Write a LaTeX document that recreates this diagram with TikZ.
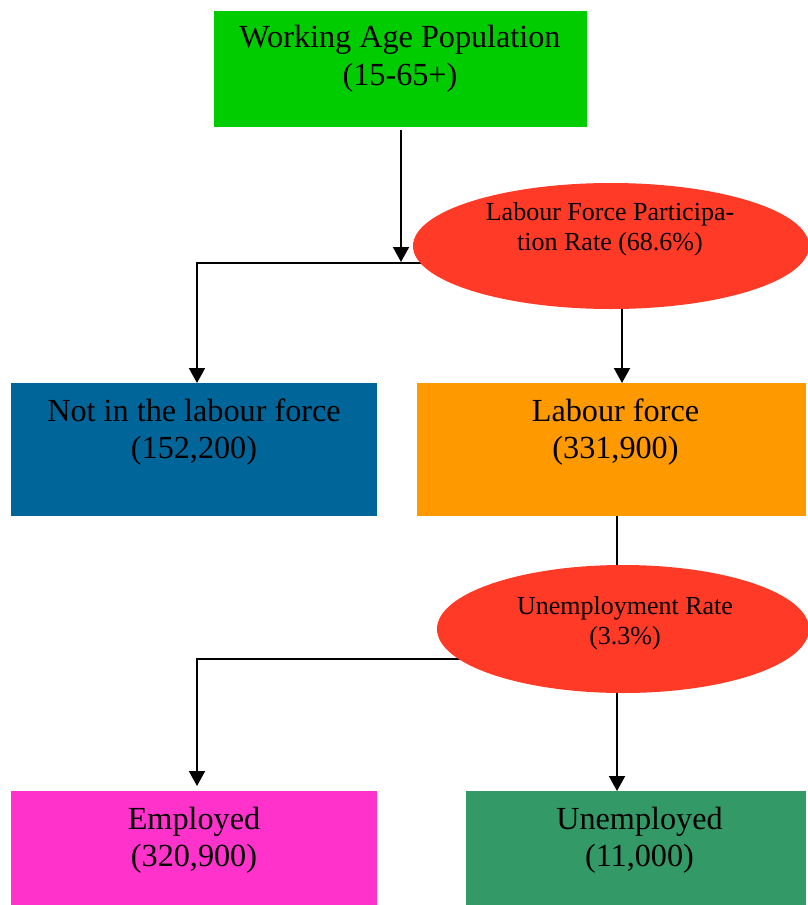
\documentclass[tikz,border=0pt]{standalone}
\usepackage{fontspec}
\setmainfont{Liberation Serif}
\usetikzlibrary{arrows.meta,shapes.geometric,backgrounds}
\definecolor{cgreen}{HTML}{00CC00}
\definecolor{cred}{HTML}{FF3B28}
\definecolor{cblue}{HTML}{006699}
\definecolor{corange}{HTML}{FF9900}
\definecolor{cmagenta}{HTML}{FF33CC}
\definecolor{cteal}{HTML}{339966}
\tikzset{
  box/.style={rectangle,draw=none,inner sep=0pt,outer sep=0pt},
  oval/.style={ellipse,fill=cred,draw=none,inner sep=0pt,outer sep=0pt},
  bigtxt/.style={align=center,inner sep=0pt,font=\fontsize{32.2}{37.5}\selectfont},
  smalltxt/.style={align=center,inner sep=0pt,font=\fontsize{26}{30}\selectfont},
  conn/.style={line width=2pt,black},
  arr/.style={conn,-{Triangle[width=16pt,length=15pt]}}
}
\begin{document}
\begin{tikzpicture}[x=1pt,y=-1pt]
\useasboundingbox (0,0) rectangle (808,905);
% boxes
\node[box,fill=cgreen,minimum width=373pt,minimum height=116pt] (wap) at (400.5,69) {};
\node[bigtxt] (waptxt) at (400,59) {Working Age Population\\(15-65+)};
\node[oval,minimum width=396pt,minimum height=126pt] (lfpr) at (611,246) {};
\node[smalltxt] (lfprtxt) at (610,229) {Labour Force Participa-\\tion Rate (68.6\%)};
\node[box,fill=cblue,minimum width=366pt,minimum height=133pt] (nilf) at (194,449.5) {};
\node[bigtxt] (nilftxt) at (194,432) {Not in the labour force\\(152,200)};
\node[box,fill=corange,minimum width=389pt,minimum height=133pt] (lf) at (611.5,449.5) {};
\node[bigtxt] (lftxt) at (615.5,432) {Labour force\\(331,900)};
\node[oval,minimum width=372pt,minimum height=128pt] (ur) at (623,629) {};
\node[smalltxt] (urtxt) at (625,623) {Unemployment Rate\\(3.3\%)};
\node[box,fill=cmagenta,minimum width=366pt,minimum height=114pt] (emp) at (194,848) {};
\node[bigtxt] (emptxt) at (194,840) {Employed\\(320,900)};
\node[box,fill=cteal,minimum width=340pt,minimum height=114pt] (unemp) at (636,848) {};
\node[bigtxt] (unemptxt) at (639.5,840) {Unemployed\\(11,000)};
\coordinate (j1) at (401,262);
% connectors
\draw[arr] ([xshift=0.5pt,yshift=-3pt]wap.south) -- (j1);
\begin{scope}[on background layer]
\draw[arr] (lfpr.center |- 0,263) -| ([xshift=3pt]nilf.north);
\draw[arr] ([xshift=11pt]lfpr.center) -- ([xshift=10.5pt]lf.north);
\draw[conn] ([xshift=5.5pt]lf.south) -- ([xshift=-6pt]ur.center);
\draw[arr] ([yshift=-30pt]ur.center) -| ([xshift=3pt,yshift=5pt]emp.north);
\draw[arr] ([xshift=-6pt]ur.center) -- ([xshift=-19pt]unemp.north);
\end{scope}
\end{tikzpicture}
\end{document}
